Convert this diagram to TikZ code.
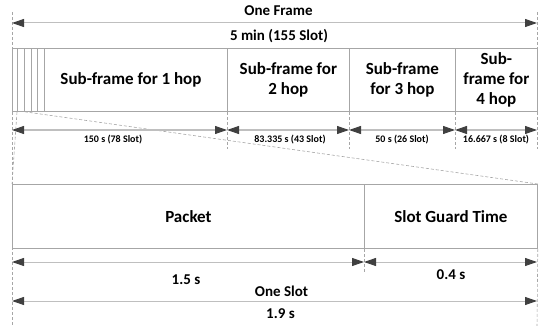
\documentclass[tikz,border=0pt]{standalone}
\usepackage{fontspec}
\setmainfont{Carlito}
\usetikzlibrary{arrows.meta}
\definecolor{boxline}{HTML}{A6A6A6}
\definecolor{arrline}{HTML}{BFBFBF}
\definecolor{headc}{HTML}{404040}
\definecolor{dashc}{HTML}{A6A6A6}
\begin{document}
\begin{tikzpicture}[x=1pt,y=-1pt,
  seg/.style={draw=boxline, line width=0.8pt, minimum height=63pt, inner sep=0pt, anchor=north west, align=center, font=\bfseries\fontsize{17}{20}\selectfont},
  slotbox/.style={draw=boxline, line width=0.8pt, minimum height=63pt, inner sep=0pt, anchor=north west},
  dim/.style={draw=arrline, line width=1pt, {Triangle[length=12pt,width=8pt,color=headc,fill=headc]}-{Triangle[length=12pt,width=8pt,color=headc,fill=headc]}},
  guide/.style={draw=dashc, line width=0.6pt, dash pattern=on 3pt off 2pt},
  lbl/.style={inner sep=0pt, font=\bfseries\fontsize{15}{18}\selectfont},
  small/.style={inner sep=0pt, font=\bfseries\fontsize{10}{12}\selectfont}]
\useasboundingbox (0,0) rectangle (543,326);

% top row: slots and sub-frames
\node[slotbox, minimum width=5pt] (s1) at (12,48) {};
\node[slotbox, minimum width=7pt] (s2) at (17,48) {};
\node[slotbox, minimum width=7pt] (s3) at (24,48) {};
\node[slotbox, minimum width=6pt] (s4) at (31,48) {};
\node[slotbox, minimum width=7pt] (s5) at (37,48) {};
\node[slotbox, minimum width=183pt] (sf1) at (44,48) {};
\node[inner sep=0pt, font=\bfseries\fontsize{17}{20}\selectfont] (sf1t) at (131,79.5) {Sub-frame for 1 hop};
\node[seg, minimum width=122pt] (sf2) at (227,48) {Sub-frame for\\2 hop};
\node[seg, minimum width=106pt] (sf3) at (349,48) {Sub-frame\\for 3 hop};
\node[seg, minimum width=82pt] (sf4) at (455,48) {Sub-\\frame for\\4 hop};

% bottom row
\node[seg, minimum width=352pt, minimum height=64pt] (pk) at (12,184) {Packet};
\node[seg, minimum width=173pt, minimum height=64pt] (gt) at (364,184) {Slot Guard Time};

% guide lines
\coordinate (gTL) at (12,12);
\coordinate (gBL) at (12,326);
\coordinate (gTR) at (537,12);
\coordinate (gMR) at (537,149);
\coordinate (gBR) at (537,326);
\draw[guide] (gTL) -- (gBL);
\draw[guide] (gTR) -- (gMR);
\draw[guide] (gt.south east) -- (gBR);
\coordinate (v2) at (227,149);
\coordinate (v3) at (349,149);
\coordinate (v4) at (455,149);
\coordinate (v5) at (364,273);
\draw[guide] (sf2.south west) -- (v2);
\draw[guide] (sf3.south west) -- (v3);
\draw[guide] (sf4.south west) -- (v4);
\draw[guide] (gt.south west) -- (v5);
\draw[guide] (s2.south west) -- (pk.north west);
\draw[guide] (s2.south east) -- (gt.north east);

% frame dimension
\coordinate (fA) at (12,23);
\coordinate (fB) at (537,23);
\draw[dim] (fA) -- (fB);
\node[lbl] (tFrame) at (278.5,10.5) {One Frame};
\node[lbl] (tMin) at (279,36) {5 min (155 Slot)};

% sub-frame dimensions
\coordinate (d1) at (12,130);
\coordinate (d2) at (227,130);
\coordinate (d3) at (349,130);
\coordinate (d4) at (455,130);
\coordinate (d5) at (537,130);
\draw[dim] (d1) -- (d2);
\draw[dim] (d2) -- (d3);
\draw[dim] (d3) -- (d4);
\draw[dim] (d4) -- (d5);
\node[small] (l1) at (113,140) {150 s (78 Slot)};
\node[small] (l2) at (290,140) {83.335 s (43 Slot)};
\node[small] (l3) at (402,140) {50 s (26 Slot)};
\node[small] (l4) at (496,140) {16.667 s (8 Slot)};

% slot dimensions
\coordinate (p1) at (12,262);
\coordinate (p2) at (364,262);
\coordinate (p3) at (537,262);
\draw[dim] (p1) -- (p2);
\draw[dim] (p2) -- (p3);
\node[lbl] (t15) at (186,280) {1.5 s};
\node[lbl] (t04) at (451,275) {0.4 s};
\node[lbl] (tSlot) at (281.5,291) {One Slot};
\coordinate (q1) at (12,301);
\coordinate (q2) at (537,301);
\draw[dim] (q1) -- (q2);
\node[lbl] (t19) at (280.5,314) {1.9 s};
\end{tikzpicture}
\end{document}
